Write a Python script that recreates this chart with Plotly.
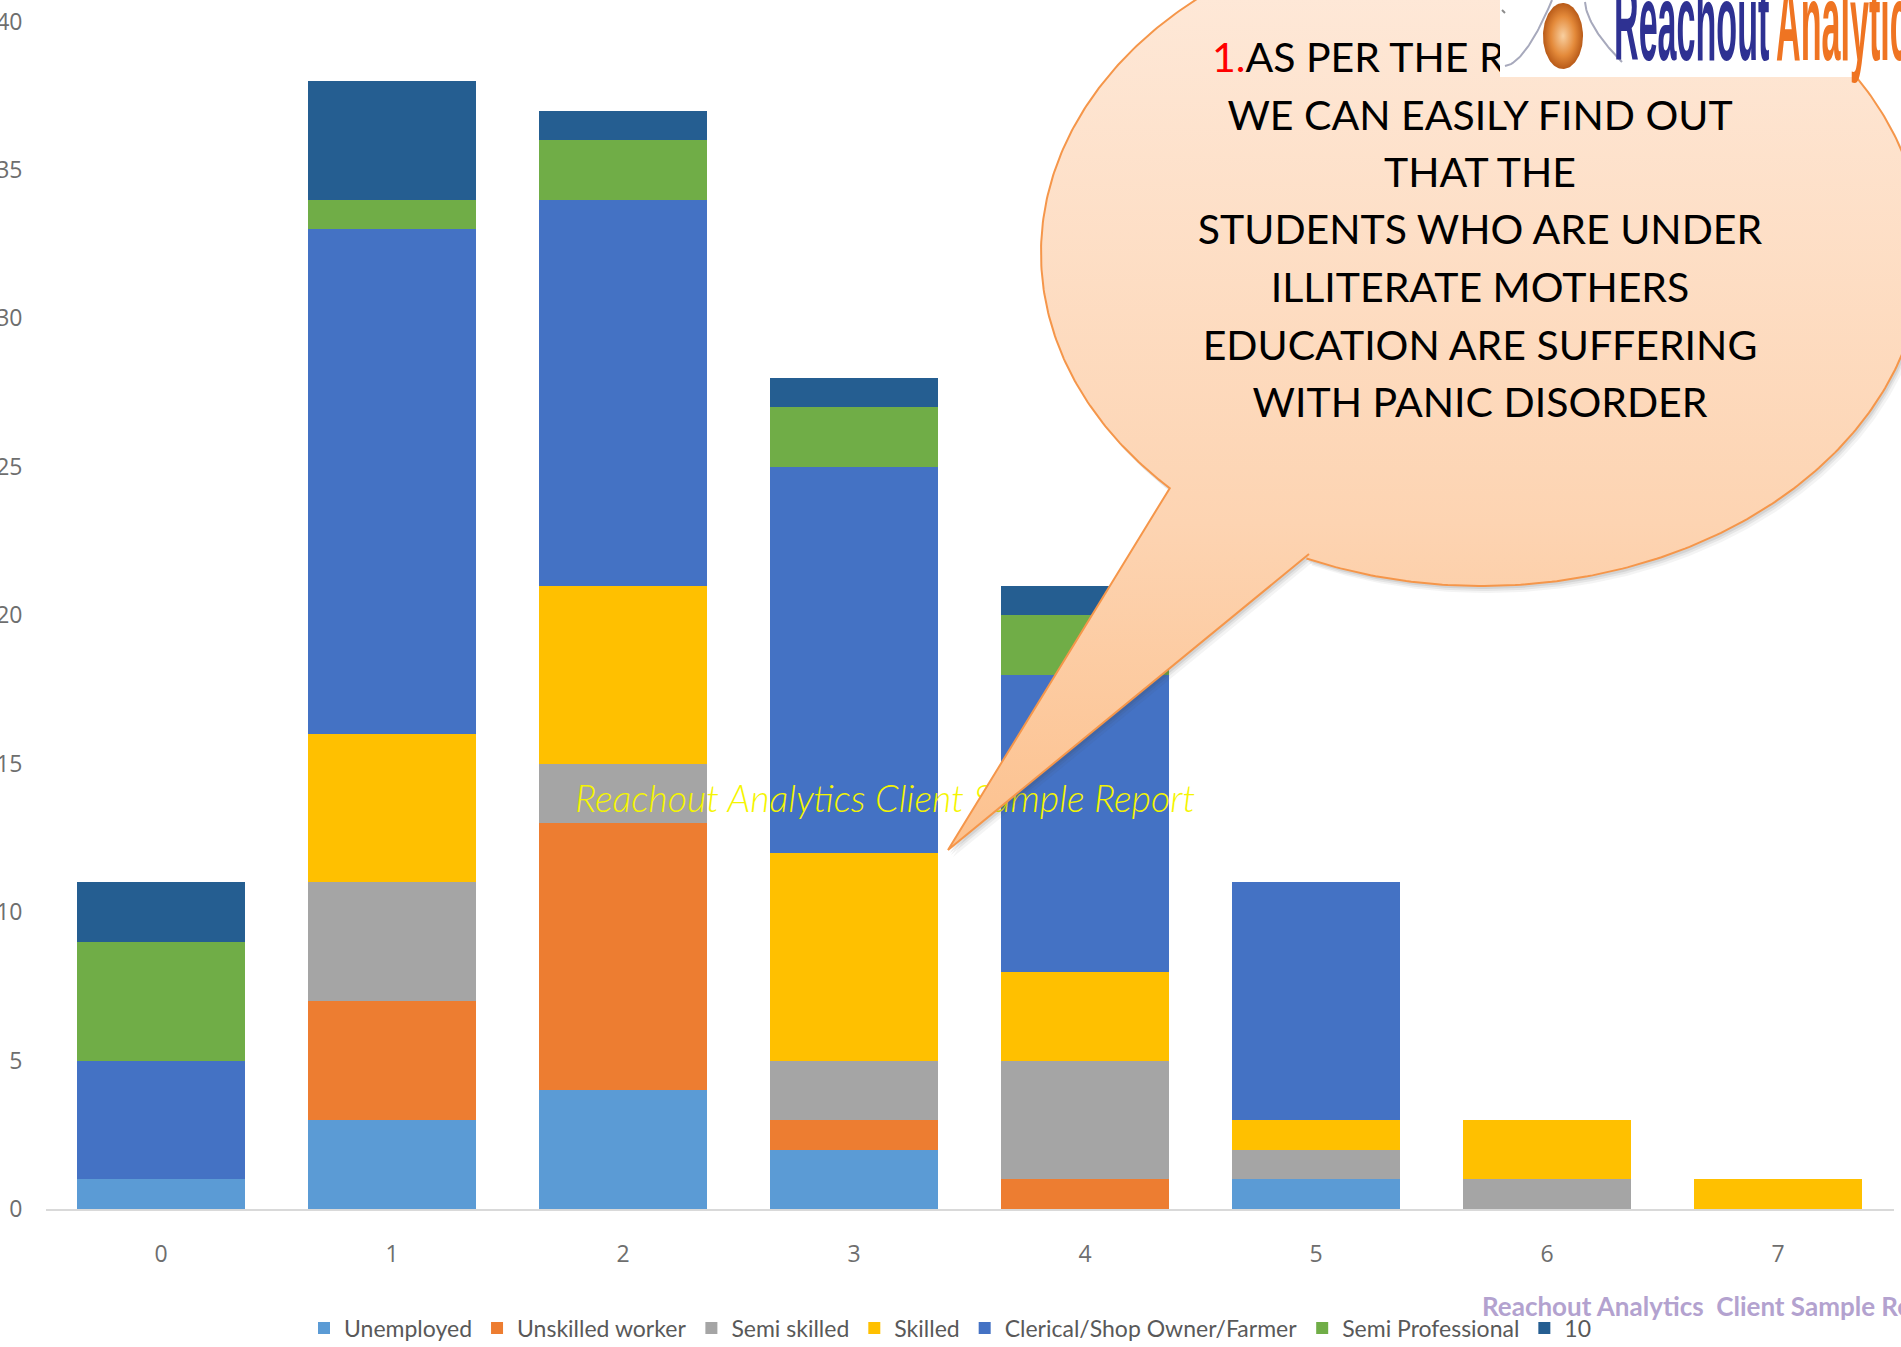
import numpy as np
import plotly.graph_objects as go

# ---------------- data ----------------
categories = ['0', '1', '2', '3', '4', '5', '6', '7']
unemployed = [1, 3, 4, 2, 0, 1, 0, 0]
unskilled_worker = [0, 4, 9, 1, 1, 0, 0, 0]
semi_skilled = [0, 4, 2, 2, 4, 1, 1, 0]
skilled = [0, 5, 6, 7, 3, 1, 2, 1]
clerical = [4, 17, 13, 13, 10, 8, 0, 0]
semi_professional = [4, 1, 2, 2, 2, 0, 0, 0]
ten = [2, 4, 1, 1, 1, 0, 0, 0]

series_names = ['Unemployed', 'Unskilled worker', 'Semi skilled', 'Skilled',
                'Clerical/Shop Owner/Farmer', 'Semi Professional', '10']
series_values = [unemployed, unskilled_worker, semi_skilled, skilled,
                 clerical, semi_professional, ten]
series_colors = ['#5B9BD5', '#ED7D31', '#A5A5A5', '#FFC000',
                 '#4472C4', '#70AD47', '#255E91']
y_ticks = [0, 5, 10, 15, 20, 25, 30, 35, 40]

callout_first = "<span style='color:#FF0000'>1.</span>AS PER THE REPORT"
callout_lines = ["WE CAN EASILY FIND OUT", "THAT THE", "STUDENTS WHO ARE UNDER",
                 "ILLITERATE MOTHERS", "EDUCATION ARE SUFFERING", "WITH PANIC DISORDER"]
watermark_mid = "Reachout Analytics Client Sample Report"
watermark_bottom = "Reachout Analytics  Client Sample Report"
logo_word1 = "Reachout"
logo_word2 = "Analytics"

# ---------------- page geometry (pixels) ----------------
W, H = 1901, 1347
PLOT_L, PLOT_R = 45.5, 1893.5
PLOT_T, PLOT_B = 21.5, 1209


def pxx(x):
    return x / W


def pxy(y):
    return 1 - y / H


fig = go.Figure()

for name, vals, col in zip(series_names, series_values, series_colors):
    fig.add_trace(go.Bar(x=categories, y=vals, name=name,
                         marker=dict(color=col, line=dict(width=0)),
                         hoverinfo='skip', xaxis='x', yaxis='y'))

# ---------------- decoration layer (pixel overlay subplot) ----------------
# yellow watermark (below the callout)
fig.add_trace(go.Scatter(x=[575], y=[803], mode='text', text=[watermark_mid],
                         textposition='middle right',
                         textfont=dict(family='Lato', size=37.5, color='#F5F500',
                                       style='italic', weight=300),
                         showlegend=False, hoverinfo='skip', xaxis='x2', yaxis='y2'))

# speech bubble
cx, cy, rx, ry = 1482, 253, 441, 333
ax_, ay_ = 1309, 554
bx_, by_ = 1170, 488
tipx, tipy = 948, 850
tA = np.arctan2((ay_ - cy) / ry, (ax_ - cx) / rx)
tB = np.arctan2((by_ - cy) / ry, (bx_ - cx) / rx)
ts = np.linspace(tA, tB - 2 * np.pi, 500)
bub_x = list(cx + rx * np.cos(ts)) + [tipx, ax_]
bub_y = list(cy + ry * np.sin(ts)) + [tipy, ay_]

for dx, dy, a in [(5, 7, 0.06), (3, 5, 0.08), (2, 3, 0.10)]:
    fig.add_trace(go.Scatter(x=[v + dx for v in bub_x], y=[v + dy for v in bub_y],
                             mode='lines', fill='toself',
                             fillcolor='rgba(60,60,60,%s)' % a, line=dict(width=0),
                             showlegend=False, hoverinfo='skip', xaxis='x2', yaxis='y2'))

fig.add_trace(go.Scatter(x=bub_x, y=bub_y, mode='lines', fill='toself',
                         fillgradient=dict(type='vertical', start=-85, stop=850,
                                           colorscale=[[0, '#FEEBDD'], [0.65, '#FDD4B2'],
                                                       [1, '#FCC18E']]),
                         line=dict(color='#F5964A', width=2),
                         showlegend=False, hoverinfo='skip', xaxis='x2', yaxis='y2'))

# callout text
fig.add_trace(go.Scatter(x=[1212], y=[62], mode='text', text=[callout_first],
                         textposition='middle right',
                         textfont=dict(family='Lato', size=41, color='#000000'),
                         showlegend=False, hoverinfo='skip', xaxis='x2', yaxis='y2'))
line_y = [120, 177, 234, 292, 350, 407]
fig.add_trace(go.Scatter(x=[1480] * len(callout_lines), y=line_y, mode='text',
                         text=callout_lines, textposition='middle center',
                         textfont=dict(family='Lato', size=41, color='#000000'),
                         showlegend=False, hoverinfo='skip', xaxis='x2', yaxis='y2'))

# logo box
fig.add_trace(go.Scatter(x=[1500, 1901, 1901, 1500, 1500], y=[0, 0, 77, 77, 0],
                         mode='lines', fill='toself', fillcolor='#FFFFFF',
                         line=dict(width=0), showlegend=False, hoverinfo='skip',
                         xaxis='x2', yaxis='y2'))
# logo arcs
arc_t = np.linspace(0, 1, 40)
fig.add_trace(go.Scatter(x=list(1505 + 47 * arc_t ** 0.7), y=list(66 - 66 * arc_t ** 1.2),
                         mode='lines', line=dict(color='#A7A9BC', width=2),
                         showlegend=False, hoverinfo='skip', xaxis='x2', yaxis='y2'))
fig.add_trace(go.Scatter(x=list(1585 + 37 * arc_t ** 1.3), y=list(2 + 60 * arc_t ** 0.8),
                         mode='lines', line=dict(color='#A7A9BC', width=2),
                         showlegend=False, hoverinfo='skip', xaxis='x2', yaxis='y2'))
fig.add_trace(go.Scatter(x=[1502, 1505], y=[10, 13], mode='lines',
                         line=dict(color='#8C8C8C', width=2),
                         showlegend=False, hoverinfo='skip', xaxis='x2', yaxis='y2'))
# globe
gt = np.linspace(0, 2 * np.pi, 120)
fig.add_trace(go.Scatter(x=list(1563 + 20 * np.cos(gt)), y=list(36 + 33 * np.sin(gt)),
                         mode='lines', fill='toself',
                         fillgradient=dict(type='radial',
                                           colorscale=[[0, '#F8CFA0'], [0.6, '#E48A3A'],
                                                       [1, '#B85A18']]),
                         line=dict(width=0), showlegend=False, hoverinfo='skip',
                         xaxis='x2', yaxis='y2'))

tick_font = dict(family='Open Sans', size=23, color='#6E6E6E')

# ---------------- layout ----------------
fig.update_layout(
    width=W, height=H, autosize=False,
    margin=dict(l=0, r=0, t=0, b=0, pad=0, autoexpand=False),
    paper_bgcolor='#FFFFFF', plot_bgcolor='rgba(0,0,0,0)',
    barmode='stack', bargap=0.277,
    showlegend=True,
    legend=dict(orientation='h', x=0.5, xanchor='center', y=pxy(1328), yanchor='middle',
                traceorder='normal', bgcolor='rgba(0,0,0,0)',
                font=dict(family='Lato', size=23, color='#595959')),
    xaxis=dict(domain=[pxx(PLOT_L), pxx(PLOT_R)], anchor='y', type='category',
               automargin=False,
               showgrid=False, zeroline=False, showline=True, linecolor='#D9D9D9',
               linewidth=2, ticks='', ticklabelstandoff=23, tickfont=tick_font,
               fixedrange=True),
    yaxis=dict(domain=[pxy(PLOT_B), pxy(PLOT_T)], anchor='x', range=[0, 40],
               automargin=False,
               tickvals=y_ticks, showgrid=False, zeroline=False, showline=False,
               ticks='', ticklabelstandoff=22, tickfont=tick_font,
               fixedrange=True),
    xaxis2=dict(domain=[0, 1], anchor='y2', range=[0, W], visible=False,
                fixedrange=True, automargin=False),
    yaxis2=dict(domain=[0, 1], anchor='x2', range=[H, 0], visible=False,
                fixedrange=True, automargin=False),
    annotations=[
        dict(text=logo_word1, x=pxx(1612), y=pxy(85), xref='paper', yref='paper',
             xanchor='left', yanchor='bottom', showarrow=False,
             font=dict(family='Liberation Sans', size=110,
                       color='#2E3192', weight='bold')),
        dict(text=logo_word2, x=pxx(1774), y=pxy(85), xref='paper', yref='paper',
             xanchor='left', yanchor='bottom', showarrow=False,
             font=dict(family='Liberation Sans', size=110,
                       color='#EF7422', weight='bold')),
        dict(text=watermark_bottom, x=pxx(1480), y=pxy(1306), xref='paper', yref='paper',
             xanchor='left', yanchor='middle', showarrow=False,
             font=dict(family='Lato', size=26, color='#B3A2CF', weight='bold')),
    ],
)

# page without the browser's default body margin; the logo lettering is a very
# condensed face, so those two words are squeezed horizontally
post = """
(function(){
  document.documentElement.style.margin = '0';
  document.body.style.margin = '0';
  document.body.style.padding = '0';
  function sq(){
    var gd = document.getElementById('{plot_id}');
    if(!gd) return;
    var ts = gd.querySelectorAll('g.annotation text.annotation-text');
    ts.forEach(function(t){
      var s = t.textContent;
      if (s === '%s' || s === '%s') {
        var bb = t.getBBox();
        var x0 = bb.x;
        t.setAttribute('transform', 'translate(' + x0 + ',0) scale(0.31,1) translate(' + (-x0) + ',0)');
      }
    });
  }
  sq();
  setTimeout(sq, 200);
  setTimeout(sq, 800);
})();
""" % (logo_word1, logo_word2)

fig.write_html('out.html', post_script=post, config={'displayModeBar': False})
